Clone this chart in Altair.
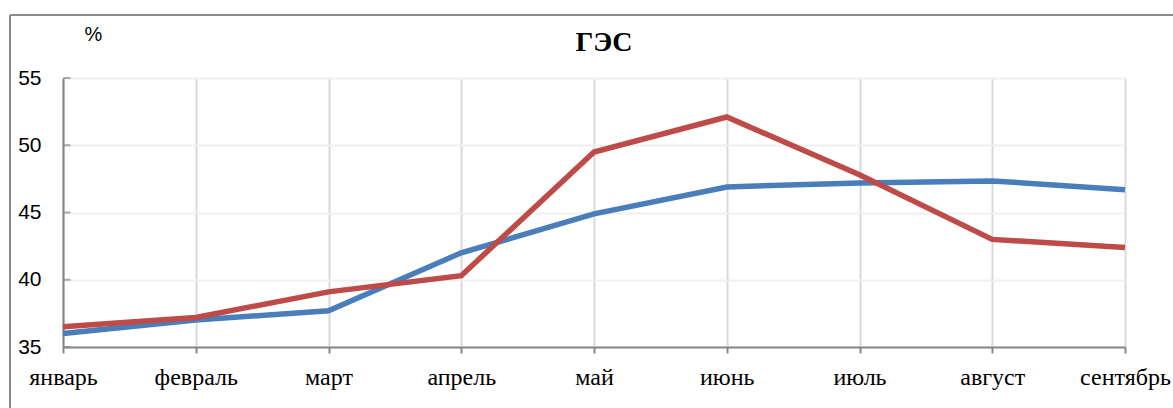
import altair as alt
import pandas as pd

# Monthly shares, %
months = ["январь", "февраль", "март", "апрель", "май", "июнь", "июль", "август", "сентябрь"]
series_a = [36.0, 37.0, 37.7, 42.0, 44.9, 46.9, 47.2, 47.35, 46.7]
series_b = [36.5, 37.2, 39.1, 40.3, 49.5, 52.1, 47.8, 43.0, 42.4]
series_names = ["ряд 1", "ряд 2"]
series_colors = ["#4a7ebb", "#be4b48"]
y_ticks = [35, 40, 45, 50, 55]
chart_title = "ГЭС"

rows = []
for name, vals in zip(series_names, [series_a, series_b]):
    for m, v in zip(months, vals):
        rows.append({"month": m, "value": v, "series": name})
df = pd.DataFrame(rows)
ticks_df = pd.DataFrame({"v": y_ticks})
title_df = pd.DataFrame({"t": [chart_title]})

x_enc = alt.X(
    "month:N",
    sort=months,
    scale=alt.Scale(type="point", padding=0),
    axis=alt.Axis(
        title=None,
        labelAngle=0,
        labelFont="Liberation Serif",
        labelFontSize=24,
        labelColor="#000000",
        labelPadding=12,
        domainColor="#868686",
        domainWidth=2,
        tickColor="#868686",
        tickWidth=2,
        tickSize=6,
        grid=True,
        gridColor="#d9d9d9",
        gridWidth=2,
    ),
)

y_scale = alt.Scale(domain=[35, 55], nice=False, zero=False)

lines = alt.Chart(df).mark_line(strokeWidth=5.5, strokeJoin="miter").encode(
    x=x_enc,
    y=alt.Y(
        "value:Q",
        scale=y_scale,
        axis=alt.Axis(
            values=y_ticks,
            title="%",
            titleAngle=0,
            titleFont="Liberation Sans",
            titleFontSize=20,
            titleFontWeight="normal",
            titleColor="#000000",
            titleX=30,
            titleY=-44,
            titleAlign="center",
            titleBaseline="middle",
            labelFont="Liberation Sans",
            labelFontSize=21,
            labelColor="#000000",
            labelPadding=22,
            domainColor="#868686",
            domainWidth=2,
            ticks=False,
            grid=True,
            gridColor="#f0f0f0",
            gridWidth=2,
        ),
    ),
    color=alt.Color(
        "series:N",
        scale=alt.Scale(domain=series_names, range=series_colors),
        legend=None,
    ),
    detail="series:N",
)

# short tick marks on the inner side of the value axis
inner_ticks = alt.Chart(ticks_df).mark_tick(
    orient="horizontal", color="#868686", thickness=2, size=7
).encode(
    y=alt.Y("v:Q", scale=y_scale),
    x=alt.value(4),
)

# chart heading
heading = alt.Chart(title_df).mark_text(
    font="Liberation Serif",
    fontSize=28,
    fontWeight="bold",
    color="#000000",
    align="center",
    baseline="middle",
).encode(text="t:N", x=alt.value(541), y=alt.value(-35))

# outer frame of the chart area
frame_top = alt.Chart(ticks_df).mark_rule(color="#8c8c8c", strokeWidth=2).encode(
    x=alt.value(-53), x2=alt.value(1120), y=alt.value(-63)
)
frame_left = alt.Chart(ticks_df).mark_rule(color="#8c8c8c", strokeWidth=2).encode(
    x=alt.value(-53), y=alt.value(-63), y2=alt.value(340)
)

chart = alt.layer(lines, inner_ticks, heading, frame_top, frame_left).properties(
    width=1062,
    height=269,
    autosize=alt.AutoSizeParams(type="none"),
    padding={"left": 63, "top": 78, "right": 48, "bottom": 61},
).configure_view(stroke="#d9d9d9", strokeWidth=2).configure(background="#ffffff")

chart.save("out.html", embed_options={"renderer": "svg", "actions": False})
